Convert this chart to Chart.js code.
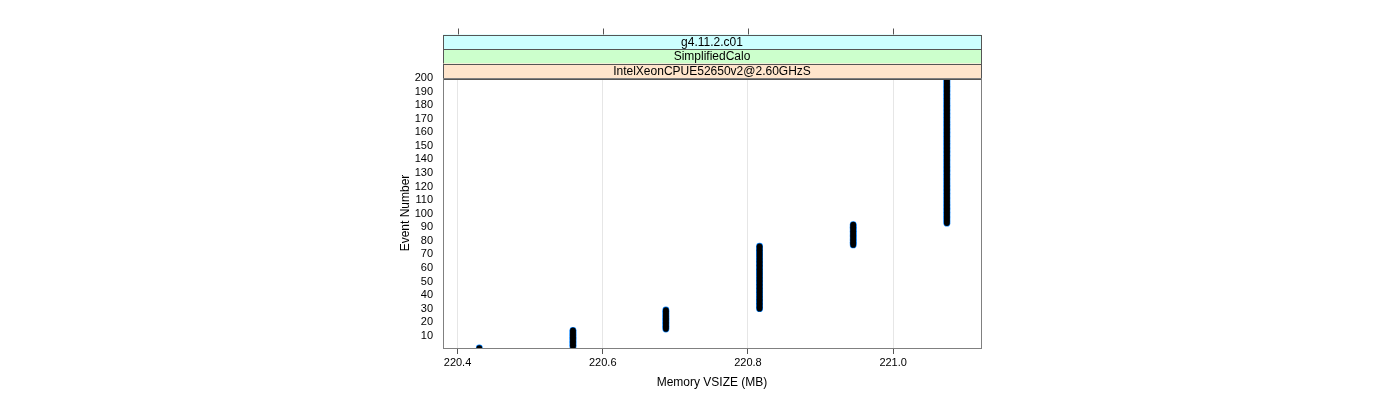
<!DOCTYPE html>
<html>
<head>
<meta charset="utf-8">
<script src="https://cdn.jsdelivr.net/npm/chart.js@4"></script>
<style>
  html, body { margin: 0; padding: 0; background: #fff; }
  canvas { display: block; }
</style>
</head>
<body>
<canvas id="memChart" width="1400" height="400"></canvas>
<script>
const memoryLevels = [220.430, 220.559, 220.687, 220.816, 220.945, 221.074];
const firstEvent = [1, 2, 15, 30, 77, 93];
const lastEvent = [1, 14, 29, 76, 92, 200];

const xTicks = [220.4, 220.6, 220.8, 221.0];
const yTicks = [10, 20, 30, 40, 50, 60, 70, 80, 90, 100, 110, 120, 130, 140, 150, 160, 170, 180, 190, 200];

const stripLabels = ["g4.11.2.c01", "SimplifiedCalo", "IntelXeonCPUE52650v2@2.60GHzS"];
const stripColors = ["#ccffff", "#ccffcc", "#ffe5cc"];

const FONT = "'Liberation Sans', Arial, Helvetica, sans-serif";

// one point per event
const points = [];
memoryLevels.forEach((mem, i) => {
  for (let ev = firstEvent[i]; ev <= lastEvent[i]; ev++) {
    points.push({ x: mem, y: ev });
  }
});

// strips above the panel, top tick marks and panel frame (lattice look)
const panelDecor = {
  id: "panelDecor",
  afterDraw(chart) {
    const { ctx, chartArea: a } = chart;
    const xScale = chart.scales.x;
    const stripH = 14.5;
    const stripTop = a.top - stripH * stripLabels.length;

    ctx.save();
    ctx.lineWidth = 1;
    stripLabels.forEach((txt, i) => {
      const y = stripTop + i * stripH;
      ctx.fillStyle = stripColors[i];
      ctx.fillRect(a.left, y, a.right - a.left, stripH);
      ctx.strokeStyle = "#555";
      ctx.strokeRect(Math.round(a.left) + 0.5, Math.round(y) + 0.5, Math.round(a.right - a.left), Math.round(stripH));
      ctx.fillStyle = "#000";
      ctx.font = "12px " + FONT;
      ctx.textAlign = "center";
      ctx.textBaseline = "middle";
      ctx.fillText(txt, (a.left + a.right) / 2, y + stripH / 2 + 0.5);
    });

    // tick marks on top of the strips
    ctx.strokeStyle = "#555";
    xTicks.forEach(v => {
      const px = Math.round(xScale.getPixelForValue(v)) + 0.5;
      ctx.beginPath();
      ctx.moveTo(px, stripTop - 6);
      ctx.lineTo(px, stripTop);
      ctx.stroke();
    });

    // panel frame
    ctx.strokeStyle = "#808080";
    ctx.strokeRect(Math.round(a.left) + 0.5, Math.round(a.top) + 0.5,
      Math.round(a.right - a.left), Math.round(a.bottom - a.top));
    ctx.restore();
  }
};

const ctx = document.getElementById("memChart");

new Chart(ctx, {
  type: "scatter",
  data: {
    datasets: [
      {
        // black core (dataset 0 is drawn on top)
        data: points,
        backgroundColor: "#000",
        borderWidth: 0,
        pointRadius: 2.8,
        clip: 0
      },
      {
        // blue rim underneath
        data: points,
        backgroundColor: "#0080ff",
        borderWidth: 0,
        pointRadius: 3.4,
        clip: 0
      }
    ]
  },
  options: {
    responsive: false,
    animation: false,
    layout: { padding: { left: 395, right: 419, top: 78, bottom: 0 } },
    plugins: {
      legend: { display: false },
      tooltip: { enabled: false }
    },
    scales: {
      x: {
        type: "linear",
        min: 220.38,
        max: 221.121,
        afterBuildTicks: s => { s.ticks = xTicks.map(v => ({ value: v })); },
        afterFit: s => { s.height = 52; },
        grid: { color: "#e6e6e6", tickColor: "#555", tickLength: 6, lineWidth: 1 },
        border: { display: false },
        ticks: {
          color: "#000",
          font: { family: FONT, size: 11 },
          padding: 2,
          maxRotation: 0,
          autoSkip: false,
          callback: v => Number(v).toFixed(1)
        },
        title: {
          display: true,
          text: "Memory VSIZE (MB)",
          color: "#000",
          font: { family: FONT, size: 12 },
          padding: { top: 0, bottom: 10 }
        }
      },
      y: {
        type: "linear",
        min: 1,
        max: 200,
        afterBuildTicks: s => { s.ticks = yTicks.map(v => ({ value: v })); },
        afterFit: s => { s.width = 48; },
        grid: { display: false, drawTicks: false },
        border: { display: false },
        ticks: {
          color: "#000",
          font: { family: FONT, size: 11 },
          padding: 10,
          autoSkip: false
        },
        title: {
          display: true,
          text: "Event Number",
          color: "#000",
          font: { family: FONT, size: 12 },
          padding: { top: 3, bottom: 0 }
        }
      }
    }
  },
  plugins: [panelDecor]
});
</script>
</body>
</html>
